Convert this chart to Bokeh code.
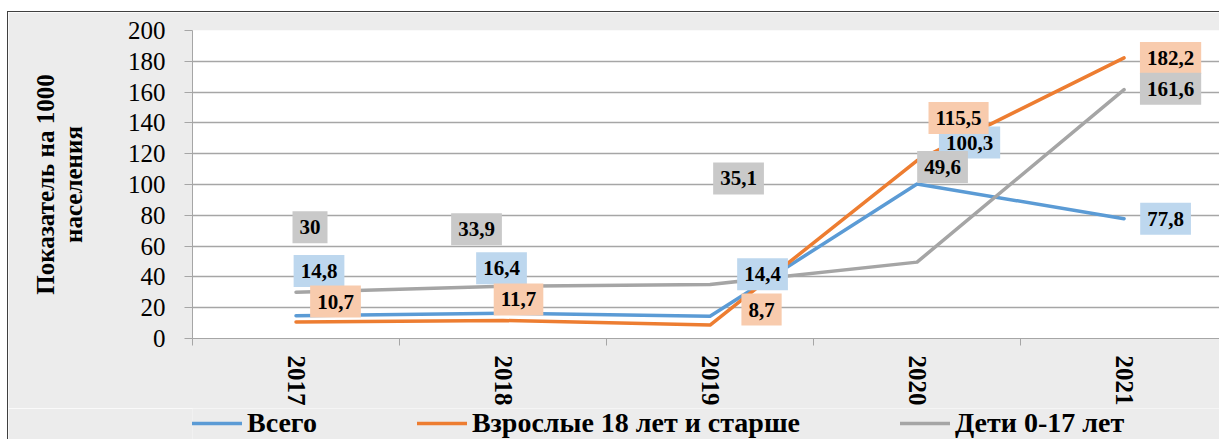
from bokeh.plotting import figure
from bokeh.layouts import column
from bokeh.models import (Range1d, FixedTicker, Legend, LegendItem, ColumnDataSource)
from bokeh.core.properties import value
from bokeh.embed import file_html
from bokeh.resources import INLINE

years = ["2017", "2018", "2019", "2020", "2021"]
total = [14.8, 16.4, 14.4, 100.3, 77.8]
adults = [10.7, 11.7, 8.7, 115.5, 182.2]
children = [30.0, 33.9, 35.1, 49.6, 161.6]
labels_total = ["14,8", "16,4", "14,4", "100,3", "77,8"]
labels_adults = ["10,7", "11,7", "8,7", "115,5", "182,2"]
labels_children = ["30", "33,9", "35,1", "49,6", "161,6"]
series_names = ["Всего", "Взрослые 18 лет и старше", "Дети 0-17 лет"]

# label placement offsets in screen pixels (style)
off_total = ([23, -1.5, 52.5, 52.5, 41.5], [-44.7, -45, -42, -41.5, 0])
off_adults = ([39.5, 15.5, 51.5, 41.5, 46.5], [-20.5, -21, -15.6, -42.6, 0])
off_children = ([14, -26.5, 28.5, 25.5, 46.5], [-65, -57, -106, -95, -1])

FONT = "Liberation Serif"
BG = "#ECECEC"
GRID = "#A6A6A6"

xs = list(range(len(years)))

p = figure(width=1211, height=396, output_backend="svg", toolbar_location=None,
           x_range=Range1d(-0.5, 4.461), y_range=Range1d(0, 200),
           min_border_left=184, min_border_right=0, min_border_top=18, min_border_bottom=70)
p.border_fill_color = BG
p.background_fill_color = "white"
p.outline_line_color = None

# y axis
p.yaxis.ticker = FixedTicker(ticks=list(range(0, 201, 20)))
p.yaxis.axis_line_color = GRID
p.yaxis.major_tick_line_color = GRID
p.yaxis.major_tick_out = 8
p.yaxis.major_tick_in = 0
p.yaxis.minor_tick_line_color = None
p.yaxis.major_label_text_font = FONT
p.yaxis.major_label_text_font_size = "25px"
p.yaxis.major_label_text_color = "black"
p.yaxis.major_label_standoff = 19
p.yaxis.axis_label = "Показатель на 1000\nнаселения"
p.yaxis.axis_label_text_font = FONT
p.yaxis.axis_label_text_font_style = "bold"
p.yaxis.axis_label_text_font_size = "25px"
p.yaxis.axis_label_text_line_height = 1.05
p.yaxis.axis_label_text_color = "black"
p.yaxis.axis_label_standoff = 38

# x axis
p.xaxis.ticker = FixedTicker(ticks=xs, minor_ticks=[-0.5, 0.5, 1.5, 2.5, 3.5, 4.5])
p.xaxis.major_label_overrides = {i: y for i, y in enumerate(years)}
p.xaxis.major_label_orientation = "vertical"
p.xaxis.axis_line_color = GRID
p.xaxis.major_tick_line_color = None
p.xaxis.major_tick_out = 0
p.xaxis.major_tick_in = 0
p.xaxis.minor_tick_line_color = GRID
p.xaxis.minor_tick_out = 7
p.xaxis.minor_tick_in = 0
p.xaxis.major_label_text_font = FONT
p.xaxis.major_label_text_font_style = "bold"
p.xaxis.major_label_text_font_size = "25px"
p.xaxis.major_label_text_color = "black"
p.xaxis.major_label_standoff = 10

p.xgrid.grid_line_color = None
p.ygrid.ticker = FixedTicker(ticks=list(range(20, 201, 20)))
p.ygrid.grid_line_color = GRID
p.ygrid.grid_line_width = 1.3

colors = ["#5B9BD5", "#ED7D31", "#A5A5A5"]
box_colors = ["#BDD7EE", "#F8CBAD", "#C9C9C9"]
series = [total, adults, children]
labels = [labels_total, labels_adults, labels_children]
offsets = [off_total, off_adults, off_children]

for vals, c in zip(series, colors):
    p.line(xs, vals, line_color=c, line_width=3.5, line_cap="round", line_join="round")

for vals, labs, (dx, dy), bc in zip(series, labels, offsets, box_colors):
    src = ColumnDataSource(dict(x=xs, y=vals, t=labs, dx=dx, dy=dy))
    p.text(x="x", y="y", text="t", source=src, x_offset="dx", y_offset="dy",
           text_font=value(FONT), text_font_style="bold", text_font_size="21px",
           text_color="black", text_align="center", text_baseline="middle",
           background_fill_color=bc, padding=(7, 9))

# legend strip (same gray chart area); its series lines lie outside its visible range
q = figure(width=1211, height=31, output_backend="svg", toolbar_location=None,
           x_range=Range1d(100, 101), y_range=Range1d(0, 1),
           x_axis_location=None, y_axis_location=None,
           min_border_left=184, min_border_right=0, min_border_top=0, min_border_bottom=0)
q.border_fill_color = BG
q.background_fill_color = BG
q.outline_line_color = None
q.grid.visible = False
leg_renderers = [q.line(xs, vals, line_color=c, line_width=3.5, line_cap="round")
                 for vals, c in zip(series, colors)]

legend = Legend(items=[LegendItem(label=n, renderers=[r]) for n, r in zip(series_names, leg_renderers)],
                orientation="horizontal", location=(0, 0))
legend.background_fill_alpha = 0
legend.border_line_alpha = 0
legend.padding = 0
legend.margin = 0
legend.glyph_width = 50
legend.glyph_height = 28
legend.label_height = 28
legend.label_standoff = 5
legend.spacing = 100
legend.label_text_font = FONT
legend.label_text_font_style = "bold"
legend.label_text_font_size = "28px"
legend.label_text_color = "black"
q.add_layout(legend)

layout = column(p, q, spacing=0)
layout.styles = {"margin-left": "7px", "margin-top": "11px",
                 "border-left": "1px solid #404040", "border-top": "1px solid #404040"}
open("out.html", "w").write(file_html(layout, INLINE))
